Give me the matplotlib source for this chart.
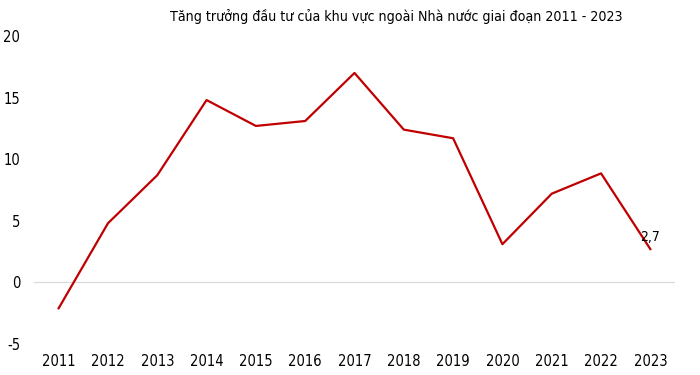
import numpy as np
import matplotlib.pyplot as plt

years = ["2011", "2012", "2013", "2014", "2015", "2016", "2017",
         "2018", "2019", "2020", "2021", "2022", "2023"]
growth = [-2.1, 4.8, 8.7, 14.8, 12.7, 13.1, 17.0, 12.4, 11.7, 3.1, 7.2, 8.85, 2.7]
y_ticks = [-5, 0, 5, 10, 15, 20]
title = "Tăng trưởng đầu tư của khu vực ngoài Nhà nước giai đoạn 2011 - 2023"

plt.rcParams['font.family'] = ['DejaVu Sans']
plt.rcParams['font.stretch'] = 'condensed'
plt.rcParams['axes.unicode_minus'] = False

fig = plt.figure(figsize=(7, 3.75), dpi=100)
ax = fig.add_axes([34 / 700, 1 - 344 / 375, (675 - 34) / 700, (344 - 36) / 375])

x = np.arange(len(years))
ax.plot(x, growth, color='#c00000', linewidth=1.6)
ax.axhline(0, color='#d9d9d9', linewidth=0.9, zorder=0)

ax.annotate("2,7", (x[-1], growth[-1]), xytext=(0, 3.5), textcoords='offset points',
            ha='center', va='bottom', fontsize=10)

ax.set_xlim(-0.5, len(years) - 0.5)
ax.set_ylim(-5, 20)
ax.set_xticks(x)
ax.set_xticklabels(years)
ax.set_yticks(y_ticks)
ax.tick_params(length=0, labelsize=10.5)
ax.tick_params(axis='y', pad=10)
ax.tick_params(axis='x', pad=7)
for s in ax.spines.values():
    s.set_visible(False)

fig.text(0.566, 1 - 17 / 375, title, ha='center', va='center', fontsize=10.2)

fig.savefig("out.png", dpi=100)
